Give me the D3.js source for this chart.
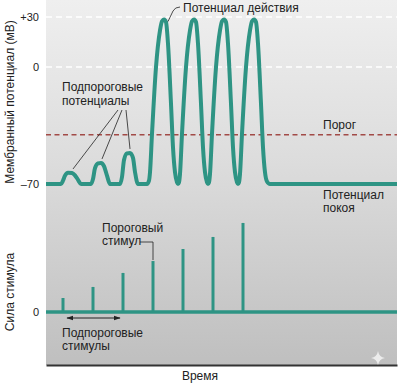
<!DOCTYPE html>
<html>
<head>
<meta charset="utf-8">
<script src="https://cdn.jsdelivr.net/npm/d3@7"></script>
<style>
  body { margin: 0; background: #fff; }
  svg { display: block; font-family: "Liberation Sans", Arial, sans-serif; }
</style>
</head>
<body>
<div id="chart"></div>
<script>
// membrane potential trace (time in arbitrary units, mV)
var traceTime = [0, 7.5, 8.5, 9.5, 11, 13, 14.5, 16, 17.5,
  22.5, 23.5, 24.5, 26, 27.5, 29, 30.5, 32,
  37, 38, 39, 40.5, 42, 43.5, 44.5, 46,
  50.5, 51.5, 52, 53, 55, 57, 58, 59, 60, 61, 62.5, 63.5, 64.5, 65.5, 66,
  66.5, 67, 68, 70, 72, 73, 74, 75, 76, 77.5, 78.5, 79.5, 80.5, 81,
  81.5, 82, 83, 85, 87, 88, 89, 90, 91, 92.5, 93.5, 94.5, 95.5, 96,
  96.5, 97, 98, 100, 102, 103, 104, 105, 106, 107.5, 108.5, 109.5, 110.5, 112, 175.5];
var traceVolt = [-70, -70, -68, -65, -63.2, -63.4, -64.8, -67.5, -70,
  -70, -67, -60.5, -57.7, -57.4, -59.3, -65, -70,
  -70, -65.8, -55.6, -51.7, -51.4, -54.4, -62.8, -70,
  -70, -68, -63, -40, 0, 22, 27.5, 28.5, 27, 14, -22, -48, -63, -69, -70,
  -69, -64, -40, 0, 22, 27.5, 28.5, 27, 14, -22, -48, -63, -69, -70,
  -69, -64, -40, 0, 22, 27.5, 28.5, 27, 14, -22, -48, -63, -69, -70,
  -69, -64, -40, 0, 22, 27.5, 28.5, 27, 14, -22, -48, -63, -68.5, -70, -70];

// stimuli
var stimTime = [8.5, 23.5, 38.5, 53.5, 68.5, 83.5, 98.5];
var stimStrength = [1, 1.79, 2.79, 3.64, 4.5, 5.36, 6.36];

var voltTicks = [-70, 0, 30];
var voltTickLabels = ["\u201370", "0", "+30"];
var gridLevels = [30, 0];
var threshold = -40.5;
var bumpPeaks = [[13, -63.4], [27.5, -57.4], [42, -51.4]];

var W = 400, H = 384;
var svg = d3.select("#chart").append("svg")
  .attr("width", W).attr("height", H);

var x = d3.scaleLinear().domain([0, 175.5]).range([46, 397]);
var yV = d3.scaleLinear().domain([-70, 30]).range([184, 17]);
var yS = d3.scaleLinear().domain([0, 1]).range([312, 298]);

var teal = "#2e9484";
var ink = "#222";

// background
var grad = svg.append("defs").append("linearGradient")
  .attr("id", "bg").attr("x1", 0).attr("y1", 0).attr("x2", 0).attr("y2", 1);
grad.append("stop").attr("offset", "0").attr("stop-color", "#efefef");
grad.append("stop").attr("offset", "0.45").attr("stop-color", "#dcdcdc");
grad.append("stop").attr("offset", "1").attr("stop-color", "#bfbfbf");

svg.append("rect")
  .attr("x", 46).attr("y", 0).attr("width", 351).attr("height", 365)
  .attr("fill", "url(#bg)");

// dashed white gridlines
svg.selectAll(".grid").data(gridLevels).enter().append("line")
  .attr("x1", x(0)).attr("x2", x(175.5))
  .attr("y1", d => yV(d)).attr("y2", d => yV(d))
  .attr("stroke", "#fff").attr("stroke-width", 1.5)
  .attr("stroke-dasharray", "6,4");

// threshold
svg.append("line")
  .attr("x1", x(0)).attr("x2", x(175.5))
  .attr("y1", yV(threshold)).attr("y2", yV(threshold))
  .attr("stroke", "#a24b47").attr("stroke-width", 1.5)
  .attr("stroke-dasharray", "5,3.5");

// membrane trace
var traceData = traceTime.map((t, i) => ({t: t, v: traceVolt[i]}));
svg.append("path")
  .datum(traceData)
  .attr("fill", "none")
  .attr("stroke", teal)
  .attr("stroke-width", 4)
  .attr("stroke-linejoin", "round")
  .attr("d", d3.line()
    .x(d => x(d.t))
    .y(d => yV(d.v))
    .curve(d3.curveMonotoneX));

// stimuli
svg.append("line")
  .attr("x1", x(0)).attr("x2", x(175.5))
  .attr("y1", yS(0)).attr("y2", yS(0))
  .attr("stroke", teal).attr("stroke-width", 3.5);

svg.selectAll(".stim").data(stimTime).enter().append("line")
  .attr("x1", d => x(d)).attr("x2", d => x(d))
  .attr("y1", yS(0)).attr("y2", (d, i) => yS(stimStrength[i]))
  .attr("stroke", teal).attr("stroke-width", 3);

// axes
var axV = svg.append("g").attr("transform", "translate(46,0)")
  .call(d3.axisLeft(yV).tickValues(voltTicks)
    .tickFormat((d, i) => voltTickLabels[i]).tickSize(0).tickPadding(7));
var axS = svg.append("g").attr("transform", "translate(46,0)")
  .call(d3.axisLeft(yS).tickValues([0]).tickFormat(d3.format("d"))
    .tickSize(0).tickPadding(7));
[axV, axS].forEach(a => {
  a.select(".domain").remove();
  a.selectAll("text").attr("font-size", 11).attr("fill", ink)
    .attr("font-family", "Liberation Sans, Arial, sans-serif");
});

var axX = svg.append("g").attr("transform", "translate(0,365)")
  .call(d3.axisBottom(x).tickValues([]).tickSizeOuter(0));
axX.select(".domain").attr("stroke", "#333").attr("stroke-width", 2);

// labels
function label(txt, lx, ly, anchor) {
  return svg.append("text").attr("x", lx).attr("y", ly)
    .attr("font-size", 12).attr("fill", ink)
    .attr("text-anchor", anchor || "start").text(txt);
}

svg.append("text")
  .attr("transform", "translate(14,102) rotate(-90)")
  .attr("text-anchor", "middle").attr("font-size", 12).attr("fill", ink)
  .text("Мембранный потенциал (мВ)");
svg.append("text")
  .attr("transform", "translate(14,292) rotate(-90)")
  .attr("text-anchor", "middle").attr("font-size", 12).attr("fill", ink)
  .text("Сила стимула");
label("Время", 200, 380, "middle");

label("Потенциал действия", 183, 12);
label("Подпороговые", 62, 91);
label("потенциалы", 62, 105);
label("Порог", 323, 129);
label("Потенциал", 323, 199);
label("покоя", 323, 212);
label("Пороговый", 102, 232);
label("стимул", 102, 245);
label("Подпороговые", 62, 337);
label("стимулы", 62, 350);

// leader lines
var lead = svg.append("g").attr("fill", "none").attr("stroke", "#222").attr("stroke-width", 0.8);
var tops = [118, 122, 126];
bumpPeaks.forEach((p, i) => {
  lead.append("line")
    .attr("x1", tops[i]).attr("y1", 110)
    .attr("x2", x(p[0]) + (i === 2 ? 0 : 1)).attr("y2", yV(p[1]) - 4);
});

lead.append("path")
  .attr("d", "M" + (x(59) + 4) + "," + (yV(28.5) + 2) + " L173,11 Q175,7 180,7");

var s4x = x(stimTime[3]), s4y = yS(stimStrength[3]);
lead.append("path")
  .attr("d", "M140,242 L" + s4x + ",242 L" + s4x + "," + (s4y - 1));

// double arrow
var defs = svg.select("defs");
defs.append("marker").attr("id", "ah").attr("viewBox", "0 0 10 10")
  .attr("refX", 9).attr("refY", 5).attr("markerWidth", 7).attr("markerHeight", 7)
  .attr("orient", "auto-start-reverse")
  .append("path").attr("d", "M0,1.5 L10,5 L0,8.5 Z").attr("fill", "#222");
svg.append("line")
  .attr("x1", x(stimTime[0]) + 4).attr("x2", x(stimTime[2]) - 3)
  .attr("y1", 318).attr("y2", 318)
  .attr("stroke", "#222").attr("stroke-width", 1)
  .attr("marker-start", "url(#ah)").attr("marker-end", "url(#ah)");

// small sparkle watermark
svg.append("path")
  .attr("d", "M378,351 Q379,357 385,358 Q379,359 378,365 Q377,359 371,358 Q377,357 378,351 Z")
  .attr("fill", "#fff").attr("opacity", 0.7);
</script>
</body>
</html>
